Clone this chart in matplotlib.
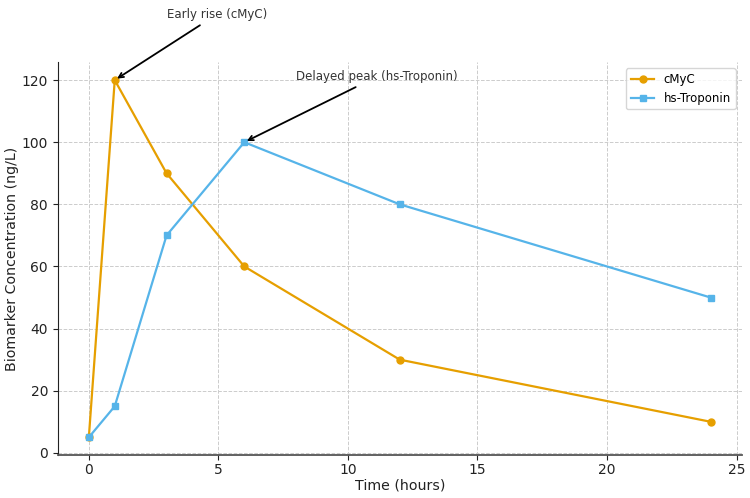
import matplotlib
matplotlib.use('Agg')
import matplotlib.pyplot as plt

# data
time_cmyc = [0, 1, 3, 6, 12, 24]
cmyc = [5, 120, 90, 60, 30, 10]
time_trop = [0, 1, 3, 6, 12, 24]
troponin = [5, 15, 70, 100, 80, 50]

fig = plt.figure(figsize=(7.5, 4.98), dpi=100)
ax = fig.add_axes([0.077, 0.086, 0.912, 0.789])

ax.plot(time_cmyc, cmyc, marker='o', color='#E69F00', linewidth=1.6, markersize=5, label='cMyC')
ax.plot(time_trop, troponin, marker='s', color='#56B4E9', linewidth=1.6, markersize=5, label='hs-Troponin')

ax.annotate('Early rise (cMyC)', xy=(1, 120), xytext=(3, 140),
            fontsize=8.5, color='#333333',
            arrowprops=dict(arrowstyle='->', color='black', lw=1.3))
ax.annotate('Delayed peak (hs-Troponin)', xy=(6, 100), xytext=(8, 120),
            fontsize=8.5, color='#333333',
            arrowprops=dict(arrowstyle='->', color='black', lw=1.3))

ax.set_xlabel('Time (hours)', fontsize=10.2, color='#222222', labelpad=1)
ax.set_ylabel('Biomarker Concentration (ng/L)', fontsize=10.2, color='#222222', labelpad=2)
ax.tick_params(labelsize=10, colors='#222222')
ax.tick_params(axis='x', pad=2)
ax.grid(True, linestyle='--', color='#cccccc', linewidth=0.7)
ax.spines['top'].set_visible(False)
ax.spines['right'].set_visible(False)
ax.spines['left'].set_color('#222222')
ax.spines['bottom'].set_color('#555555')
ax.spines['bottom'].set_linewidth(1.3)

ax.legend(loc='upper right', fontsize=8.5)

fig.savefig('out.png', dpi=100)
